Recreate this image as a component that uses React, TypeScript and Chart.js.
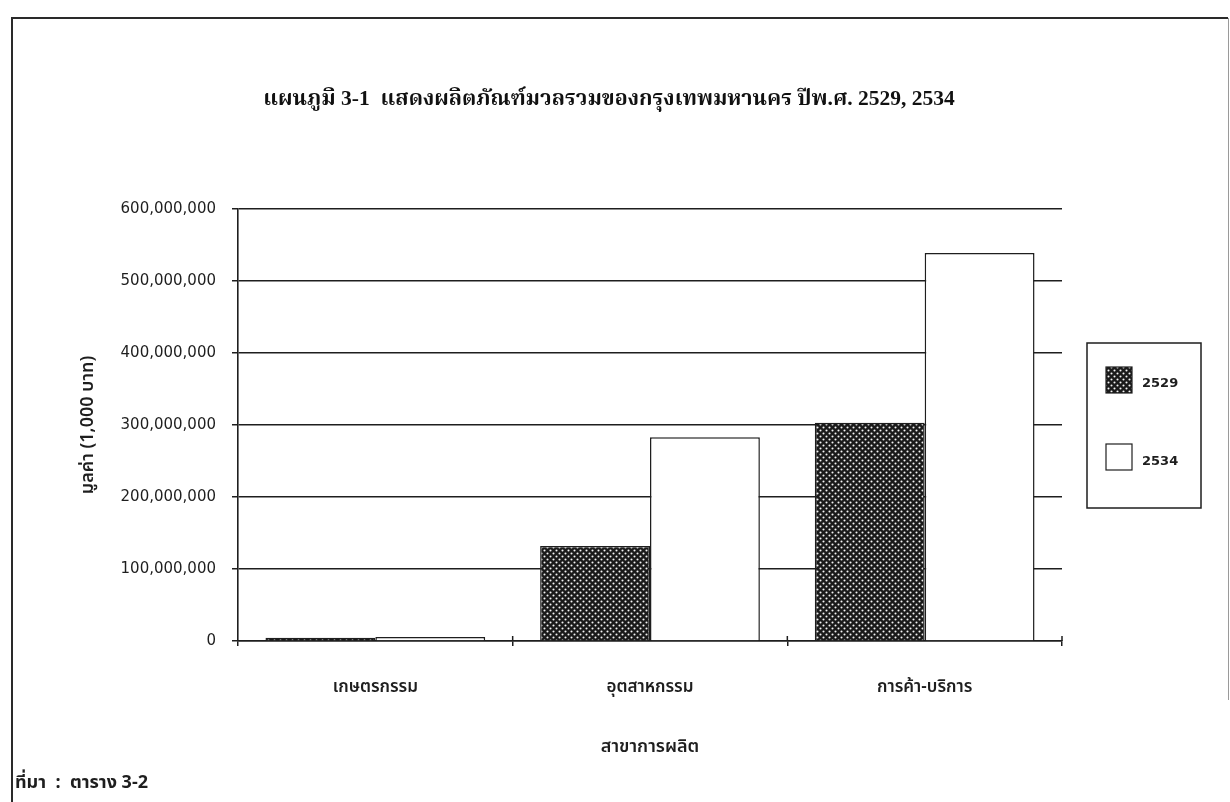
import React, { useEffect, useRef } from "react";
import { Chart, registerables } from "chart.js";

Chart.register(...registerables);

// ---- data ----
const categories = ["เกษตรกรรม", "อุตสาหกรรม", "การค้า-บริการ"];
const seriesLabels = ["2529", "2534"];
const values2529 = [4500000, 132000000, 303000000];
const values2534 = [5500000, 283000000, 539000000];
const yMin = 0;
const yMax = 600000000;
const yStep = 100000000;
const titleText = "แผนภูมิ 3-1  แสดงผลิตภัณฑ์มวลรวมของกรุงเทพมหานคร ปีพ.ศ. 2529, 2534";
const yAxisTitle = "มูลค่า (1,000 บาท)";
const xAxisTitle = "สาขาการผลิต";
const sourceNote = "ที่มา  :  ตาราง 3-2";

const INK = "#1e1e1e";
const THAI = "'Noto Sans Thai', 'Noto Sans Thai UI', Loma, Garuda, 'Noto Sans', sans-serif";
const TITLE_FONT = "'Liberation Serif', 'Noto Serif Thai', 'Noto Sans Thai', serif";
const NUM_FONT = "'DejaVu Sans', Verdana, sans-serif";

function makeDotPattern(): CanvasPattern | string {
  const c = document.createElement("canvas");
  c.width = 6;
  c.height = 6;
  const g = c.getContext("2d");
  if (!g) return INK;
  g.fillStyle = "#1a1a1a";
  g.fillRect(0, 0, 6, 6);
  g.fillStyle = "#f4f4f4";
  g.beginPath();
  g.arc(1.5, 1.5, 1.05, 0, Math.PI * 2);
  g.arc(4.5, 4.5, 1.05, 0, Math.PI * 2);
  g.fill();
  const p = g.createPattern(c, "repeat");
  return p || INK;
}

export default function App() {
  const ref = useRef<HTMLCanvasElement | null>(null);

  useEffect(() => {
    const canvas = ref.current;
    if (!canvas) return;
    const dots = makeDotPattern();

    const decor = {
      id: "decor",
      afterDraw(chart: any) {
        const ctx = chart.ctx as CanvasRenderingContext2D;
        const xs = chart.scales.x;
        const area = chart.chartArea;
        ctx.save();
        // outer frame
        ctx.strokeStyle = "#2a2a2a";
        ctx.lineWidth = 2;
        ctx.beginPath();
        ctx.moveTo(12, 802);
        ctx.lineTo(12, 18);
        ctx.lineTo(1228, 18);
        ctx.stroke();
        ctx.strokeStyle = "#9a9a9a";
        ctx.lineWidth = 1;
        ctx.beginPath();
        ctx.moveTo(1228.5, 18);
        ctx.lineTo(1228.5, 700);
        ctx.stroke();

        // upward tick marks at category boundaries
        ctx.strokeStyle = INK;
        ctx.lineWidth = 1.5;
        for (let i = 0; i < categories.length; i++) {
          const b =
            i < categories.length - 1
              ? (xs.getPixelForValue(i) + xs.getPixelForValue(i + 1)) / 2
              : area.right;
          ctx.beginPath();
          ctx.moveTo(b, area.bottom - 5);
          ctx.lineTo(b, area.bottom);
          ctx.stroke();
        }

        // title
        ctx.fillStyle = "#111";
        ctx.font = `bold 21.5px ${TITLE_FONT}`;
        ctx.textAlign = "center";
        ctx.textBaseline = "middle";
        ctx.fillText(titleText, 609, 99);

        // legend
        ctx.strokeStyle = INK;
        ctx.lineWidth = 1.5;
        ctx.strokeRect(1087, 343, 114, 165);
        const ds = chart.data.datasets;
        const rows = [
          { y: 367, ty: 384 },
          { y: 444, ty: 462 },
        ];
        ds.forEach((d: any, i: number) => {
          const r = rows[i];
          ctx.fillStyle = d.backgroundColor;
          ctx.fillRect(1106, r.y, 26, 26);
          ctx.strokeStyle = INK;
          ctx.lineWidth = 1.2;
          ctx.strokeRect(1106, r.y, 26, 26);
          ctx.fillStyle = INK;
          ctx.font = `bold 13px ${NUM_FONT}`;
          ctx.textAlign = "left";
          ctx.textBaseline = "middle";
          ctx.fillText(d.label, 1142, r.ty);
        });

        // source note
        ctx.fillStyle = INK;
        ctx.font = `bold 18px ${THAI}`;
        ctx.textAlign = "left";
        ctx.textBaseline = "middle";
        ctx.fillText(sourceNote, 15, 784);
        ctx.restore();
      },
    };

    const chart = new Chart(canvas, {
      type: "bar",
      data: {
        labels: categories,
        datasets: [
          {
            label: seriesLabels[0],
            data: values2529,
            backgroundColor: dots as any,
            borderColor: INK,
            borderWidth: 1.5,
            barPercentage: 1,
            categoryPercentage: 0.8,
          },
          {
            label: seriesLabels[1],
            data: values2534,
            backgroundColor: "#ffffff",
            borderColor: INK,
            borderWidth: 1.5,
            barPercentage: 1,
            categoryPercentage: 0.8,
          },
        ],
      },
      options: {
        animation: false,
        responsive: false,
        devicePixelRatio: 1,
        layout: { padding: { left: 60, right: 168, top: 209, bottom: 0 } },
        plugins: {
          legend: { display: false },
          title: { display: false },
          tooltip: { enabled: false },
        },
        scales: {
          x: {
            type: "category",
            offset: true,
            grid: {
              offset: true,
              drawOnChartArea: false,
              drawTicks: true,
              tickLength: 5,
              color: INK,
              lineWidth: 1.5,
            },
            border: { display: true, color: INK, width: 1.5 },
            ticks: {
              color: INK,
              padding: 32,
              font: { family: THAI, size: 17, weight: "600" },
              maxRotation: 0,
            },
            title: {
              display: true,
              text: xAxisTitle,
              color: INK,
              font: { family: THAI, size: 18, weight: "600" },
              padding: { top: 0, bottom: 43 },
            },
            afterFit(s: any) {
              s.height = 161;
            },
          },
          y: {
            type: "linear",
            min: yMin,
            max: yMax,
            grid: {
              color: INK,
              lineWidth: 1.5,
              tickLength: 6,
              drawTicks: true,
            },
            border: { display: true, color: INK, width: 1.6 },
            ticks: {
              stepSize: yStep,
              color: INK,
              padding: 16,
              font: { family: NUM_FONT, size: 15 },
              callback: (v: any) => Number(v).toLocaleString("en-US"),
            },
            title: {
              display: true,
              text: yAxisTitle,
              color: INK,
              font: { family: THAI, size: 18, weight: "600" },
              padding: { top: 19, bottom: 0 },
            },
            afterFit(s: any) {
              s.width = 178;
            },
          },
        },
      },
      plugins: [decor],
    });

    return () => chart.destroy();
  }, []);

  return (
    <div style={{ position: "fixed", left: 0, top: 0, width: 1230, height: 802, background: "#ffffff" }}>
      <canvas ref={ref} width={1230} height={802} />
    </div>
  );
}
